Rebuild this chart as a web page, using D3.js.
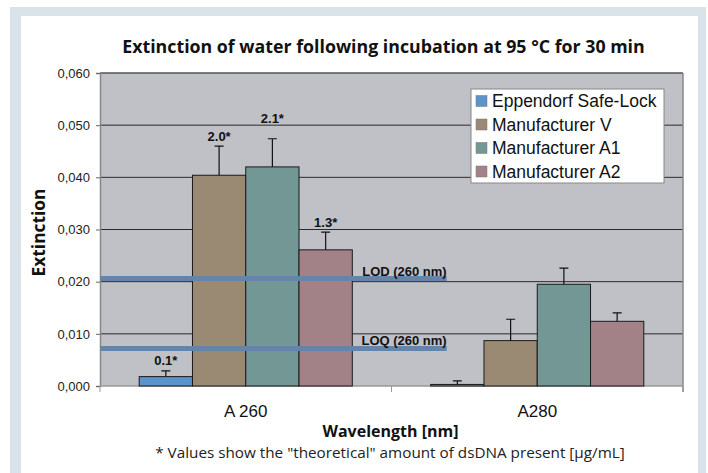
<!DOCTYPE html>
<html>
<head>
<meta charset="utf-8">
<script src="https://cdn.jsdelivr.net/npm/d3@7"></script>
<style>
  body { margin: 0; background: #fff; }
  svg { display: block; }
</style>
</head>
<body>
<div id="chart"></div>
<script>
// data
const categories = ["A 260", "A280"];
const series = ["Eppendorf Safe-Lock", "Manufacturer V", "Manufacturer A1", "Manufacturer A2"];
const colors = ["#5c93c8", "#9a8a73", "#739794", "#a28287"];
const valuesA260 = [0.0018, 0.0404, 0.0420, 0.0261];
const errorsA260 = [0.0011, 0.0056, 0.0054, 0.0034];
const valuesA280 = [0.0003, 0.0087, 0.0195, 0.0124];
const errorsA280 = [0.0007, 0.0041, 0.0031, 0.0016];
const labelsA260 = ["0.1*", "2.0*", "2.1*", "1.3*"];
const yTicks = [0, 0.01, 0.02, 0.03, 0.04, 0.05, 0.06];
const limits = [
    { name: "LOD (260 nm)", value: 0.0206 },
    { name: "LOQ (260 nm)", value: 0.0072 }
];

const width = 708, height = 473;
const margin = { top: 73, right: 25, bottom: 87, left: 100 };

const svg = d3.select('#chart')
    .append('svg')
    .attr('width', width)
    .attr('height', height);

// frame
svg.append('rect').attr('x', 10).attr('y', 7).attr('width', 696).attr('height', 466).attr('fill', '#dbe3ea');
svg.append('rect').attr('x', 21).attr('y', 16).attr('width', 677).attr('height', 457).attr('fill', '#fff');

const x0 = d3.scaleBand()
    .domain(categories)
    .range([margin.left, width - margin.right])
    .paddingInner(0.269)
    .paddingOuter(0.1345);
const x1 = d3.scaleBand()
    .domain(series)
    .range([0, x0.bandwidth()]);
const y = d3.scaleLinear()
    .domain([0, 0.06])
    .range([height - margin.bottom, margin.top]);

const left = margin.left, right = width - margin.right;

// plot background
svg.append('rect')
    .attr('x', left).attr('y', y(0.06))
    .attr('width', right - left).attr('height', y(0) - y(0.06))
    .attr('fill', '#c0c0c7');

// gridlines
svg.append('g')
    .selectAll('line')
    .data(yTicks.filter(d => d > 0 && d < 0.06))
    .join('line')
    .attr('x1', left).attr('x2', right)
    .attr('y1', d => y(d)).attr('y2', d => y(d))
    .attr('stroke', '#2a2a2a').attr('stroke-width', 1);

svg.append('line')
    .attr('x1', left).attr('x2', right)
    .attr('y1', y(0.06)).attr('y2', y(0.06))
    .attr('stroke', '#555').attr('stroke-width', 1.5);
svg.append('line')
    .attr('x1', right).attr('x2', right)
    .attr('y1', y(0.06)).attr('y2', y(0) + 6)
    .attr('stroke', '#888').attr('stroke-width', 1.5);

// y axis
const locale = d3.formatLocale({ decimal: ",", thousands: ".", grouping: [3], currency: ["", ""] });
const yAxis = svg.append('g')
    .attr('transform', `translate(${left},0)`)
    .call(d3.axisLeft(y).tickValues(yTicks).tickFormat(locale.format(".3f")).tickSize(4).tickPadding(6));
yAxis.select('.domain').attr('stroke', '#888').attr('stroke-width', 1.5);
yAxis.selectAll('.tick line').attr('stroke', '#666');
yAxis.selectAll('.tick text')
    .attr('font-family', 'Liberation Sans, Arial, sans-serif')
    .attr('font-size', 13)
    .attr('fill', '#222');

// x axis
const xAxis = svg.append('g')
    .attr('transform', `translate(0,${y(0)})`);
xAxis.append('line')
    .attr('x1', left).attr('x2', right)
    .attr('stroke', '#999').attr('stroke-width', 1.5);
xAxis.selectAll('.tk')
    .data([left, x0.step() + left, right])
    .join('line')
    .attr('class', 'tk')
    .attr('x1', d => d).attr('x2', d => d)
    .attr('y1', 0).attr('y2', 6)
    .attr('stroke', '#999');
xAxis.selectAll('.cat')
    .data(categories)
    .join('text')
    .attr('class', 'cat')
    .attr('x', d => x0(d) + x0.bandwidth() / 2)
    .attr('y', 31)
    .attr('text-anchor', 'middle')
    .attr('font-family', 'Liberation Sans, Arial, sans-serif')
    .attr('font-size', 17)
    .attr('fill', '#111')
    .text(d => d);

// bars
const groups = [
    { cat: "A 260", values: valuesA260, errors: errorsA260, labels: labelsA260 },
    { cat: "A280", values: valuesA280, errors: errorsA280, labels: null }
];

groups.forEach(g => {
    const rows = series.map((s, i) => ({ s, i, v: g.values[i], e: g.errors[i], label: g.labels ? g.labels[i] : null }));
    const gg = svg.append('g').attr('transform', `translate(${x0(g.cat)},0)`);

    gg.selectAll('rect')
        .data(rows)
        .join('rect')
        .attr('x', d => x1(d.s))
        .attr('y', d => y(d.v))
        .attr('width', x1.bandwidth())
        .attr('height', d => y(0) - y(d.v))
        .attr('fill', d => colors[d.i])
        .attr('stroke', '#1a1a1a')
        .attr('stroke-width', 1);

    // error bars
    const cx = d => x1(d.s) + x1.bandwidth() / 2;
    gg.selectAll('.err')
        .data(rows)
        .join('path')
        .attr('class', 'err')
        .attr('d', d => `M${cx(d)},${y(d.v)}V${y(d.v + d.e)}M${cx(d) - 4.5},${y(d.v + d.e)}H${cx(d) + 4.5}`)
        .attr('fill', 'none')
        .attr('stroke', '#111')
        .attr('stroke-width', 1.2);

    if (g.labels) {
        gg.selectAll('.lbl')
            .data(rows)
            .join('text')
            .attr('class', 'lbl')
            .attr('x', cx)
            .attr('y', d => y(d.v + d.e) - (d.s === "Manufacturer A1" ? 15.5 : 5.5))
            .attr('text-anchor', 'middle')
            .attr('font-family', 'Liberation Sans, Arial, sans-serif')
            .attr('font-weight', 'bold')
            .attr('font-size', 13)
            .attr('fill', '#111')
            .text(d => d.label);
    }
});

// LOD / LOQ lines
const limitEnd = x0("A280") + 16;
limits.forEach(l => {
    svg.append('line')
        .attr('x1', left).attr('x2', limitEnd)
        .attr('y1', y(l.value)).attr('y2', y(l.value))
        .attr('stroke', '#6584a8')
        .attr('stroke-width', 5);
    svg.append('text')
        .attr('x', limitEnd)
        .attr('y', y(l.value) - 3)
        .attr('text-anchor', 'end')
        .attr('font-family', 'Liberation Sans, Arial, sans-serif')
        .attr('font-weight', 'bold')
        .attr('font-size', 13)
        .attr('fill', '#111')
        .text(l.name);
});

// legend
const legend = svg.append('g').attr('transform', 'translate(471,89)');
legend.append('rect')
    .attr('width', 193).attr('height', 94)
    .attr('fill', '#fff').attr('stroke', '#888');
const items = legend.selectAll('.item')
    .data(series)
    .join('g')
    .attr('class', 'item')
    .attr('transform', (d, i) => `translate(0,${12 + i * 23.5})`);
items.append('rect')
    .attr('x', 5).attr('y', -5.5)
    .attr('width', 11).attr('height', 11)
    .attr('fill', (d, i) => colors[i])
    .attr('stroke', '#777').attr('stroke-width', 0.5);
items.append('text')
    .attr('x', 21).attr('y', 6.3)
    .attr('font-family', 'Liberation Sans, Arial, sans-serif')
    .attr('font-size', 17.5)
    .attr('fill', '#111')
    .text(d => d);

// titles, scaled to the widths measured on the reference
function fit(sel, w) {
    const len = sel.node().getComputedTextLength();
    const fs = parseFloat(sel.attr('font-size'));
    sel.attr('font-size', fs * w / len);
}

const title = svg.append('text')
    .attr('x', 383.5).attr('y', 53)
    .attr('text-anchor', 'middle')
    .attr('font-family', 'Open Sans, sans-serif')
    .attr('font-weight', 'bold')
    .attr('font-size', 18)
    .attr('fill', '#111')
    .text("Extinction of water following incubation at 95 °C for 30 min");
fit(title, 523);

const yTitle = svg.append('text')
    .attr('transform', 'translate(45,232.5) rotate(-90)')
    .attr('text-anchor', 'middle')
    .attr('font-family', 'Open Sans, sans-serif')
    .attr('font-weight', 'bold')
    .attr('font-size', 18)
    .attr('fill', '#111')
    .text("Extinction");
fit(yTitle, 88);

svg.append('text')
    .attr('x', 390.5).attr('y', 437)
    .attr('text-anchor', 'middle')
    .attr('font-family', 'Open Sans, sans-serif')
    .attr('font-weight', 'bold')
    .attr('font-size', 16)
    .attr('fill', '#111')
    .text("Wavelength [nm]");

const note = svg.append('text')
    .attr('x', 390).attr('y', 458)
    .attr('text-anchor', 'middle')
    .attr('font-family', 'Open Sans, sans-serif')
    .attr('font-size', 14)
    .attr('fill', '#222')
    .text('* Values show the "theoretical" amount of dsDNA present [µg/mL]');
fit(note, 470);
</script>
</body>
</html>
